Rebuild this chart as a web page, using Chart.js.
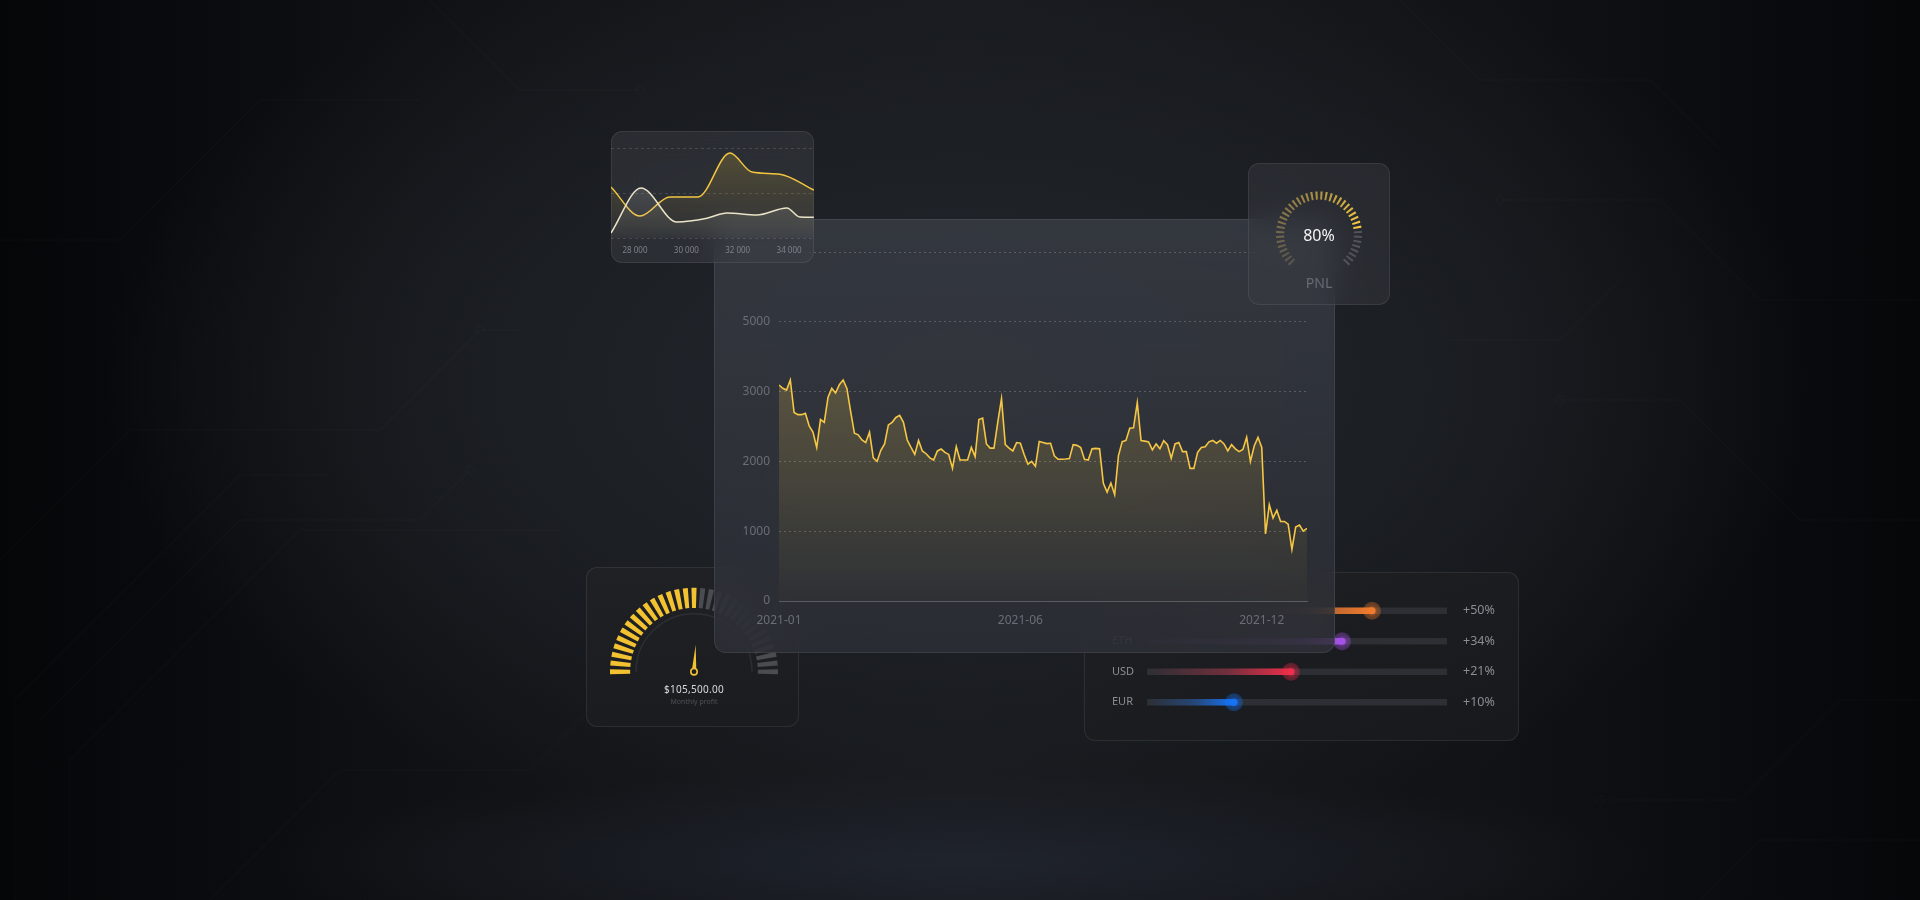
<!DOCTYPE html>
<html>
<head>
<meta charset="utf-8">
<title>Trading dashboard</title>
<script src="https://cdn.jsdelivr.net/npm/chart.js@4.4.1/dist/chart.umd.min.js"></script>
<style>
html, body { margin: 0; padding: 0; }
body {
    width: 1920px; height: 900px; overflow: hidden; position: relative;
    font-family: 'Noto Sans', sans-serif;
    background:
        radial-gradient(ellipse 1100px 620px at 960px 380px, #23262c 0%, #1c1f24 40%, rgba(20,22,26,0) 78%),
        radial-gradient(ellipse 1000px 130px at 960px 860px, rgba(40,46,60,0.5), rgba(20,22,28,0) 70%),
        linear-gradient(90deg, #050608 0%, #0f1114 22%, #17191d 50%, #101215 78%, #060709 100%);
}
#circuits { position: absolute; left: 0; top: 0; z-index: 0; }
.card { position: absolute; border-radius: 11px; box-shadow: inset 0 0 0 1px rgba(255,255,255,0.08); }
.glass { backdrop-filter: blur(14px); -webkit-backdrop-filter: blur(14px); }
#mainCard.glass { backdrop-filter: blur(24px); -webkit-backdrop-filter: blur(24px); }
.card canvas { position: absolute; left: 0; top: 0; }
.box { position: absolute; left: 0; top: 0; width: 100%; height: 100%; }

#speedCard { left: 586px; top: 567px; width: 213px; height: 160px; z-index: 1;
    background: linear-gradient(180deg, #1f2125, #1a1c20); }
#assetCard { left: 1084px; top: 572px; width: 435px; height: 169px; z-index: 1;
    background: linear-gradient(160deg, #1e2024, #17191c); }
#mainCard { left: 714px; top: 219px; width: 621px; height: 434px; z-index: 2; border-radius: 12px;
    background: linear-gradient(180deg, rgba(60,64,72,0.72), rgba(46,49,56,0.74)); }
#trendCard { left: 611px; top: 131px; width: 203px; height: 132px; z-index: 3;
    background: rgba(64,67,74,0.42); }
#pnlCard { left: 1248px; top: 163px; width: 142px; height: 142px; z-index: 3;
    background: rgba(60,63,70,0.42); }

.profit { position: absolute; left: 48px; width: 120px; text-align: center; top: 115px;
    font-size: 10px; line-height: 14px; color: #d9dadc; letter-spacing: 0.3px; }
.profitSub { position: absolute; left: 48px; width: 120px; text-align: center; top: 130px;
    font-size: 7px; line-height: 10px; color: #4d5057; }
.pnlValue { position: absolute; left: 0; width: 142px; text-align: center; top: 60px;
    font-size: 16px; line-height: 24px; color: #f4f4f5; }
.pnlName { position: absolute; left: 0; width: 142px; text-align: center; top: 110px;
    font-size: 14px; line-height: 20px; color: #686b72; }
</style>
</head>
<body>

<svg id="circuits" width="1920" height="900" fill="none" stroke="rgba(255,255,255,0.02)" stroke-width="1.5">
    <polyline points="0,560 130,430 380,430 480,330 520,330"/>
    <polyline points="40,720 240,520 420,520 470,470"/>
    <polyline points="15,900 15,700 240,475 330,475"/>
    <polyline points="70,900 70,760 300,530 560,530"/>
    <polyline points="210,900 340,770 530,770 600,700"/>
    <polyline points="0,240 120,240 260,100 420,100"/>
    <polyline points="1920,520 1800,520 1680,400 1560,400"/>
    <polyline points="1920,300 1760,300 1660,200 1500,200"/>
    <polyline points="1920,700 1840,700 1740,800 1600,800"/>
    <polyline points="1700,900 1760,840 1920,840"/>
    <polyline points="1400,0 1480,80 1650,80 1720,150"/>
    <polyline points="430,0 520,90 640,90"/>
    <polyline points="1450,340 1560,340 1620,280"/>
    <circle cx="480" cy="330" r="4"/><circle cx="470" cy="470" r="4"/>
    <circle cx="1560" cy="400" r="4"/><circle cx="1500" cy="200" r="4"/>
    <circle cx="1600" cy="800" r="4"/><circle cx="640" cy="90" r="4"/>
</svg>

<div id="speedCard" class="card">
    <div class="box"><canvas id="speedChart"></canvas></div>
    <div class="profit">$105,500.00</div>
    <div class="profitSub">Monthly profit</div>
</div>

<div id="assetCard" class="card">
    <div class="box"><canvas id="assetChart"></canvas></div>
</div>

<div id="mainCard" class="card glass">
    <div class="box"><canvas id="priceChart"></canvas></div>
</div>

<div id="trendCard" class="card glass">
    <div class="box"><canvas id="trendChart"></canvas></div>
</div>

<div id="pnlCard" class="card glass">
    <div class="box"><canvas id="pnlChart"></canvas></div>
    <div class="pnlValue">80%</div>
    <div class="pnlName">PNL</div>
</div>

<script>
// Main price series (2021-01 .. 2022-01)
const priceSeries = [
    3094, 3047, 3022, 3166, 2700, 2670, 2670, 2690, 2510, 2420,
    2200, 2600, 2560, 2920, 3046, 2980, 3100, 3166, 3046, 2712,
    2403, 2380, 2307, 2270, 2417, 2050, 2000, 2160, 2250, 2522,
    2560, 2630, 2660, 2560, 2306, 2200, 2101, 2300, 2150, 2110,
    2050, 2020, 2150, 2177, 2130, 2100, 1900, 2211, 2020, 2020,
    2020, 2200, 2068, 2600, 2620, 2250, 2190, 2190, 2560, 2900,
    2240, 2190, 2150, 2270, 2260, 2100, 1960, 2000, 1930, 2286,
    2270, 2255, 2260, 2080, 2030, 2030, 2034, 2040, 2240, 2230,
    2200, 2029, 2020, 2180, 2187, 2180, 1686, 1560, 1690, 1524,
    2080, 2283, 2300, 2474, 2480, 2840, 2300, 2290, 2280, 2164,
    2250, 2180, 2298, 2240, 2044, 2250, 2270, 2140, 2140, 1900,
    1900, 2130, 2200, 2210, 2280, 2300, 2260, 2300, 2250, 2150,
    2240, 2180, 2140, 2170, 2345, 2000, 2220, 2345, 2200, 960,
    1380, 1190, 1300, 1140, 1140, 1100, 740, 1060, 1089, 1000,
    1041
];
const dayIndex = priceSeries.map((_, i) => i);
const xTickIndex = [0, 64, 128];
const xTickLabels = ['2021-01', '2021-06', '2021-12'];
const yTickValues = [0, 1000, 2000, 3000, 4000, 5000];
const yTickLabels = ['0', '1000', '2000', '3000', '5000', ''];

// Small trend card
const goldX = [27066, 28195, 29362, 30451, 31696, 32553, 33642, 34965];
const goldY = [56.7, 24.4, 45.6, 45.6, 94.4, 73.3, 71, 53.3];
const creamX = [27066, 28233, 29634, 30800, 31580, 32747, 33914, 34420, 34965];
const creamY = [5.6, 55.6, 17.8, 22, 27.8, 25.6, 33.3, 23.3, 23];
const trendTicks = [28000, 30000, 32000, 34000];
const trendGrid = [0, 50, 100];

// Gauges
const pnlValue = 80;
const pnlTickCount = 40;
const profitPct = 52;
const profitTickCount = 31;

// Asset sliders
const assetNames = ['BTC', 'ETH', 'USD', 'EUR'];
const assetLevels = [0.75, 0.65, 0.48, 0.29];
const assetChanges = ['+50%', '+34%', '+21%', '+10%'];
const trackFull = [1, 1, 1, 1];
const assetColors = ['#f07b2e', '#a552e6', '#ec2f4b', '#1673f5'];

Chart.defaults.font.family = "'Noto Sans', sans-serif";

const tickColor = '#6b6e75';

function rgba(hex, a) {
    const n = parseInt(hex.slice(1), 16);
    return `rgba(${n >> 16},${(n >> 8) & 255},${n & 255},${a})`;
}

function vGradient(chart, from, to) {
    const a = chart.chartArea;
    if (!a) return from;
    const g = chart.ctx.createLinearGradient(0, a.top, 0, a.bottom);
    g.addColorStop(0, from);
    g.addColorStop(1, to);
    return g;
}

// dial = alternating tick / gap arcs; returns data plus sweep
function dialLayout(count, sweep, tickDeg) {
    const gapDeg = (sweep - tickDeg * (count - 1)) / (count - 1);
    const data = [];
    for (let i = 0; i < count; i++) {
        data.push(tickDeg);
        if (i < count - 1) data.push(gapDeg);
    }
    return { data, circumference: sweep + tickDeg };
}

// 1. Main price line
new Chart(document.getElementById('priceChart'), {
    type: 'line',
    data: {
        labels: dayIndex,
        datasets: [{
            data: priceSeries,
            borderColor: '#f6c744',
            borderWidth: 1.6,
            pointRadius: 0,
            tension: 0,
            fill: 'start',
            backgroundColor: (c) => {
                const a = c.chart.chartArea;
                if (!a) return 'transparent';
                const g = c.chart.ctx.createLinearGradient(0, a.top + a.height * 0.35, 0, a.bottom);
                g.addColorStop(0, 'rgba(240,200,80,0.22)');
                g.addColorStop(1, 'rgba(240,200,80,0.02)');
                return g;
            }
        }]
    },
    options: {
        responsive: true,
        maintainAspectRatio: false,
        animation: false,
        layout: { padding: { left: 15, right: 28, top: 33, bottom: 12 } },
        plugins: { legend: { display: false }, tooltip: { enabled: false } },
        scales: {
            x: {
                type: 'linear', min: 0, max: priceSeries.length - 1,
                grid: { display: false, drawTicks: false },
                border: { display: true, color: 'rgba(255,255,255,0.22)' },
                afterBuildTicks: (s) => { s.ticks = xTickIndex.map(v => ({ value: v })); },
                afterFit: (s) => { s.height = 40; },
                ticks: {
                    autoSkip: false, maxRotation: 0, padding: 12,
                    color: tickColor, font: { size: 12 },
                    callback: (v) => { const k = xTickIndex.indexOf(v); return k < 0 ? '' : xTickLabels[k]; }
                }
            },
            y: {
                min: 0, max: 5000,
                afterBuildTicks: (s) => { s.ticks = yTickValues.map(v => ({ value: v })); },
                afterFit: (s) => { s.width = 50; },
                grid: {
                    drawTicks: false,
                    color: (c) => (c.tick && c.tick.value === 0) ? 'transparent' : 'rgba(255,255,255,0.2)'
                },
                border: { display: false, dash: [2, 3] },
                ticks: {
                    padding: 9, color: tickColor, font: { size: 12 },
                    callback: (v, i) => yTickLabels[i]
                }
            }
        }
    }
});

// 2. Small trend card
new Chart(document.getElementById('trendChart'), {
    type: 'line',
    data: {
        datasets: [{
            data: creamX.map((x, i) => ({ x, y: creamY[i] })),
            borderColor: '#ebe4c8',
            borderWidth: 1.5,
            pointRadius: 0,
            cubicInterpolationMode: 'monotone',
            fill: 'start',
            backgroundColor: (c) => vGradient(c.chart, 'rgba(225,225,215,0.30)', 'rgba(225,225,215,0.04)')
        }, {
            data: goldX.map((x, i) => ({ x, y: goldY[i] })),
            borderColor: '#f3c641',
            borderWidth: 1.5,
            pointRadius: 0,
            cubicInterpolationMode: 'monotone',
            fill: 'start',
            backgroundColor: (c) => vGradient(c.chart, 'rgba(240,200,70,0.26)', 'rgba(240,200,70,0.0)')
        }]
    },
    options: {
        responsive: true,
        maintainAspectRatio: false,
        animation: false,
        layout: { padding: 0 },
        plugins: { legend: { display: false }, tooltip: { enabled: false } },
        scales: {
            x: {
                type: 'linear', min: 27066, max: 34970,
                grid: { display: false, drawTicks: false },
                border: { display: false },
                afterBuildTicks: (s) => { s.ticks = trendTicks.map(v => ({ value: v })); },
                afterFit: (s) => { s.height = 25; },
                ticks: {
                    padding: 8, color: '#7f8289', font: { size: 8 },
                    callback: (v) => String(v).replace(/\B(?=(\d{3})+(?!\d))/g, ' ')
                }
            },
            y: {
                min: 0, max: 119,
                afterBuildTicks: (s) => { s.ticks = trendGrid.map(v => ({ value: v })); },
                afterFit: (s) => { s.width = 0; },
                grid: { color: 'rgba(255,255,255,0.13)', drawTicks: false },
                border: { display: false, dash: [3, 3] },
                ticks: { display: false }
            }
        }
    }
});

// 3. PNL dial
const pnlDial = dialLayout(pnlTickCount, 270, 3.0);
const pnlDim = [115, 108, 88, 0.6];
const pnlBright = [248, 200, 66, 1];
new Chart(document.getElementById('pnlChart'), {
    type: 'doughnut',
    data: {
        datasets: [{
            data: pnlDial.data,
            borderWidth: 0,
            hoverOffset: 0,
            backgroundColor: (c) => {
                if (c.dataIndex % 2) return 'transparent';
                const k = c.dataIndex / 2;
                const lit = Math.round(pnlValue / 100 * pnlTickCount);
                if (k >= lit) return 'rgba(120,122,128,0.5)';
                const t = k / (lit - 1);
                const m = pnlDim.map((v, j) => v + (pnlBright[j] - v) * t);
                return `rgba(${m[0] | 0},${m[1] | 0},${m[2] | 0},${m[3]})`;
            }
        }]
    },
    options: {
        responsive: true,
        maintainAspectRatio: false,
        animation: false,
        rotation: -135 - 1.5,
        circumference: pnlDial.circumference,
        radius: 43,
        cutout: '81%',
        layout: { padding: { bottom: 11 } },
        plugins: { legend: { display: false }, tooltip: { enabled: false } }
    }
});

// 4. Monthly profit speedometer
const profitDial = dialLayout(profitTickCount, 180, 3.5);
const needlePlugin = {
    id: 'needle',
    beforeDatasetsDraw(chart) {
        const arc = chart.getDatasetMeta(0).data[0];
        const ctx = chart.ctx;
        ctx.save();
        ctx.strokeStyle = 'rgba(255,255,255,0.07)';
        ctx.lineWidth = 1.5;
        ctx.beginPath();
        ctx.arc(arc.x, arc.y, 58, Math.PI, 2 * Math.PI);
        ctx.stroke();
        ctx.restore();
    },
    afterDatasetsDraw(chart) {
        const arc = chart.getDatasetMeta(0).data[0];
        const ctx = chart.ctx;
        const a = Math.PI + profitPct / 100 * Math.PI;
        const x = arc.x, y = arc.y;
        ctx.save();
        ctx.fillStyle = '#f2c230';
        ctx.beginPath();
        ctx.moveTo(x + Math.cos(a + Math.PI / 2) * 2.3, y + Math.sin(a + Math.PI / 2) * 2.3);
        ctx.lineTo(x + Math.cos(a) * 27, y + Math.sin(a) * 27);
        ctx.lineTo(x + Math.cos(a - Math.PI / 2) * 2.3, y + Math.sin(a - Math.PI / 2) * 2.3);
        ctx.closePath();
        ctx.fill();
        ctx.beginPath();
        ctx.arc(x, y, 3.2, 0, 2 * Math.PI);
        ctx.fillStyle = '#1e2024';
        ctx.fill();
        ctx.lineWidth = 1.6;
        ctx.strokeStyle = '#f2c230';
        ctx.stroke();
        ctx.restore();
    }
};
new Chart(document.getElementById('speedChart'), {
    type: 'doughnut',
    data: {
        datasets: [{
            data: profitDial.data,
            borderWidth: 0,
            hoverOffset: 0,
            backgroundColor: (c) => {
                if (c.dataIndex % 2) return 'transparent';
                const lit = Math.round(profitPct / 100 * profitTickCount);
                return c.dataIndex / 2 < lit ? '#f2c230' : '#4a4c51';
            }
        }]
    },
    options: {
        responsive: true,
        maintainAspectRatio: false,
        animation: false,
        rotation: -90 - 1.75,
        circumference: profitDial.circumference,
        radius: 84,
        cutout: '76%',
        layout: { padding: { left: 3, bottom: 32 } },
        plugins: { legend: { display: false }, tooltip: { enabled: false } }
    },
    plugins: [needlePlugin]
});

// 5. Asset sliders
const knobPlugin = {
    id: 'knobs',
    afterDatasetsDraw(chart) {
        const ctx = chart.ctx;
        chart.getDatasetMeta(0).data.forEach((bar, i) => {
            const col = assetColors[i];
            ctx.save();
            ctx.fillStyle = rgba(col, 0.3);
            ctx.beginPath();
            ctx.arc(bar.x, bar.y, 9, 0, 2 * Math.PI);
            ctx.fill();
            ctx.shadowColor = col;
            ctx.shadowBlur = 6;
            ctx.fillStyle = col;
            ctx.beginPath();
            ctx.arc(bar.x, bar.y, 3.6, 0, 2 * Math.PI);
            ctx.fill();
            ctx.restore();
        });
    }
};
new Chart(document.getElementById('assetChart'), {
    type: 'bar',
    data: {
        labels: assetNames,
        datasets: [{
            data: assetLevels,
            barThickness: 6,
            grouped: false,
            order: 0,
            backgroundColor: (c) => {
                const chart = c.chart;
                const a = chart.chartArea;
                const col = assetColors[c.dataIndex];
                if (!a) return col;
                const end = chart.scales.x.getPixelForValue(assetLevels[c.dataIndex]);
                const g = chart.ctx.createLinearGradient(a.left, 0, end, 0);
                g.addColorStop(0, rgba(col, 0));
                g.addColorStop(0.55, rgba(col, 0.35));
                g.addColorStop(1, col);
                return g;
            }
        }, {
            data: trackFull,
            barThickness: 6,
            grouped: false,
            order: 1,
            backgroundColor: '#2d2f34'
        }]
    },
    options: {
        indexAxis: 'y',
        responsive: true,
        maintainAspectRatio: false,
        animation: false,
        layout: { padding: { left: 28, right: 12, top: 18, bottom: 13 } },
        plugins: { legend: { display: false }, tooltip: { enabled: false } },
        scales: {
            x: { display: false, min: 0, max: 1 },
            y: {
                grid: { display: false, drawTicks: false },
                border: { display: false },
                afterFit: (s) => { s.width = 35; },
                ticks: { crossAlign: 'far', padding: 0, color: '#8a8d94', font: { size: 11 } }
            },
            y2: {
                type: 'category', position: 'right', offset: true,
                labels: assetChanges,
                grid: { display: false, drawTicks: false },
                border: { display: false },
                afterFit: (s) => { s.width = 60; },
                ticks: { crossAlign: 'near', padding: 16, color: '#8a8d94', font: { size: 12.5 } }
            }
        }
    },
    plugins: [knobPlugin]
});
</script>
</body>
</html>
